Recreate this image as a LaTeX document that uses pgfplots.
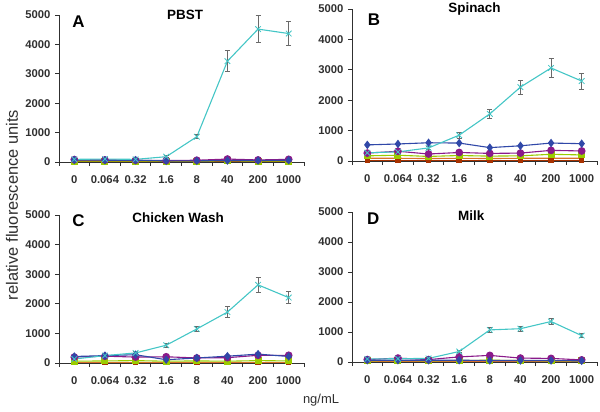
\documentclass[border=0pt]{standalone}
\usepackage{pgfplots}
\usepackage{pgfplotstable}
\pgfplotsset{compat=1.18}
\usepackage{fontspec}
\setmainfont{Liberation Sans}

\definecolor{cyanS}{HTML}{44C6C6}
\definecolor{blueS}{HTML}{3048A8}
\definecolor{purpS}{HTML}{8A1A8A}
\definecolor{limeS}{HTML}{9ACC00}
\definecolor{orgS}{HTML}{D8702A}
\definecolor{brnS}{HTML}{A83200}
\definecolor{axc}{HTML}{303030}
\definecolor{errc}{HTML}{6A6A6A}

% x cyan cyanerr blue purple lime orange brown
\pgfplotstableread{
x c e b p l o r
0 90 20 70 80 30 60 10
1 100 20 60 70 30 60 10
2 90 20 60 60 30 60 10
3 180 30 40 50 30 60 10
4 860 70 40 60 30 60 10
5 3430 350 50 100 40 60 10
6 4520 460 50 70 30 60 10
7 4370 420 60 90 30 60 10
}\tabA
\pgfplotstableread{
x c e b p l o r
0 270 40 530 260 170 90 15
1 300 40 560 320 190 90 15
2 430 50 600 230 150 80 15
3 850 100 590 280 180 90 15
4 1550 150 440 250 160 80 15
5 2430 230 500 260 170 90 15
6 3060 300 590 350 220 90 15
7 2630 260 570 330 200 90 15
}\tabB
\pgfplotstableread{
x c e b p l o r
0 135 30 220 200 60 30 10
1 250 30 250 230 70 30 10
2 340 40 280 200 80 30 10
3 600 60 110 210 60 30 10
4 1150 100 170 170 70 30 10
5 1720 180 230 180 60 30 10
6 2640 250 300 260 80 30 10
7 2210 210 220 260 70 30 10
}\tabC
\pgfplotstableread{
x c e b p l o r
0 100 20 60 80 40 20 10
1 110 20 60 130 50 20 10
2 120 20 60 80 40 20 10
3 350 30 60 170 50 20 10
4 1070 90 50 220 60 20 10
5 1110 90 50 130 50 20 10
6 1350 110 50 120 40 20 10
7 880 70 40 70 40 20 10
}\tabD

\tikzset{
  ptitle/.style={font=\fontsize{13.5}{14}\selectfont\bfseries, text=black},
  pletter/.style={font=\fontsize{17}{18}\selectfont\bfseries, text=black},
}
\pgfplotsset{
  panel/.style={
    scale only axis, width=245bp,
    xmin=-0.5, xmax=7.5, ymin=0, ymax=5000,
    axis lines*=left, clip=false,
    axis line style={axc, line width=0.9bp},
    every tick/.style={axc, line width=0.9bp},
    tick align=outside, major tick length=4bp,
    xtick={-0.5,0.5,...,7.5}, xticklabels={},
    extra x ticks={0,1,...,7},
    extra x tick labels={0,0.064,0.32,1.6,8,40,200,1000},
    extra x tick style={major tick length=0pt, tick style={draw=none},
      ticklabel style={yshift=-10bp}},
    ytick={0,1000,...,5000},
    /pgf/number format/assume math mode=true,
    /pgf/number format/set thousands separator={},
    ticklabel style={font=\fontsize{11.3}{12}\selectfont\bfseries, text=axc},
    yticklabel style={xshift=-1bp},
  },
  cyanP/.style={cyanS, line width=1.1bp, mark=x, mark size=4bp,
    mark options={solid, line width=0.8bp},
    error bars/.cd, y dir=both, y explicit,
    error bar style={errc, line width=0.9bp},
    error mark options={rotate=90, errc, mark size=2.5bp, line width=0.9bp}},
  blueP/.style={blueS, line width=1.1bp, mark=diamond*, mark size=3.4bp},
  purpP/.style={purpS, line width=1.1bp, mark=*, mark size=3.3bp},
  limeP/.style={limeS, line width=1.1bp, mark=square*, mark size=3bp},
  orgP/.style={orgS, line width=1.1bp, mark=none},
  brnP/.style={brnS, line width=1.1bp, mark=square*, mark size=2.2bp},
}

\newcommand{\panelplots}[1]{%
  \addplot[brnP] table[x=x,y=r] {#1};
  \addplot[orgP] table[x=x,y=o] {#1};
  \addplot[limeP] table[x=x,y=l] {#1};
  \addplot[purpP] table[x=x,y=p] {#1};
  \addplot[blueP] table[x=x,y=b] {#1};
  \addplot[cyanP] table[x=x,y=c,y error=e] {#1};
}

\begin{document}
\begin{tikzpicture}
\path[use as bounding box] (0,0) rectangle (600bp,412bp);

\begin{axis}[panel, height=147bp, at={(59bp,250bp)}]
  \panelplots{\tabA}
  \node[ptitle] at (rel axis cs:0.515,1.0) {PBST};
  \node[pletter] at (rel axis cs:0.08,0.955) {A};
\end{axis}

\begin{axis}[panel, height=152bp, at={(352bp,251bp)}]
  \panelplots{\tabB}
  \node[ptitle] at (rel axis cs:0.50,1.0) {Spinach};
  \node[pletter] at (rel axis cs:0.09,0.93) {B};
\end{axis}

\begin{axis}[panel, height=148bp, at={(59bp,49bp)}]
  \panelplots{\tabC}
  \node[ptitle] at (rel axis cs:0.486,0.98) {Chicken Wash};
  \node[pletter] at (rel axis cs:0.08,0.96) {C};
\end{axis}

\begin{axis}[panel, height=150bp, at={(352bp,50bp)}]
  \panelplots{\tabD}
  \node[ptitle] at (rel axis cs:0.487,0.973) {Milk};
  \node[pletter] at (rel axis cs:0.087,0.953) {D};
\end{axis}

\node[rotate=90, font=\fontsize{16.5}{17}\selectfont, text=axc] at (12bp,207bp) {relative fluorescence units};
\node[font=\fontsize{13}{14}\selectfont, text=axc] at (321bp,12bp) {ng/mL};
\end{tikzpicture}
\end{document}
